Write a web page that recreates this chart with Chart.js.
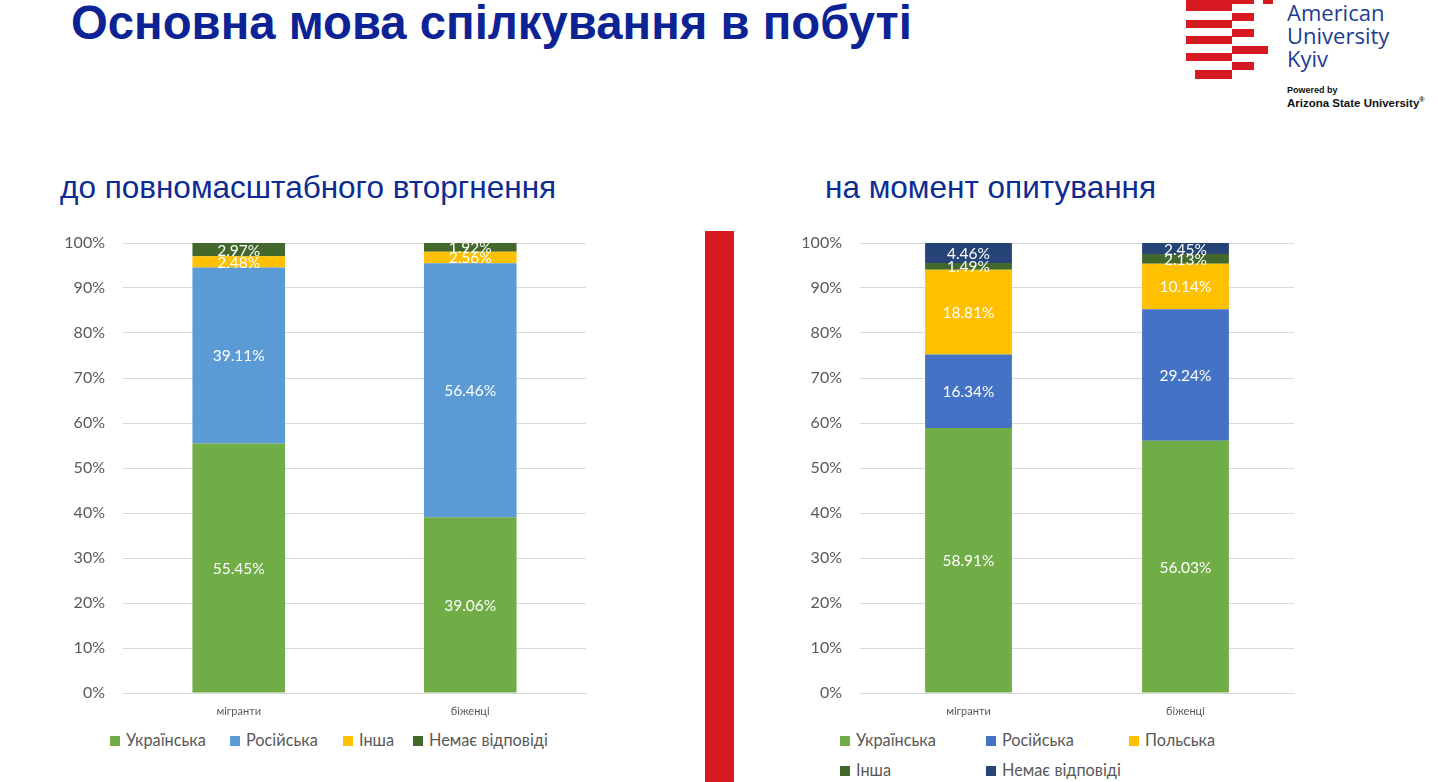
<!DOCTYPE html>
<html lang="uk">
<head>
<meta charset="utf-8">
<title>Основна мова спілкування в побуті</title>
<script src="https://cdn.jsdelivr.net/npm/chart.js@4"></script>
<style>
    html, body { margin: 0; padding: 0; background: #fff; }
    body { width: 1438px; height: 782px; position: relative; overflow: hidden; font-family: "Liberation Sans", Arial, sans-serif; }
    .titulo { position: absolute; left: 71px; top: -5px; font-size: 47.3px; font-weight: bold; color: #0b2394; white-space: nowrap; letter-spacing: 0px; }
    .sub { position: absolute; top: 169px; font-size: 31.5px; color: #0d2b92; white-space: nowrap; }
    .caja { position: absolute; }
    .barra-roja { position: absolute; left: 705px; top: 231px; width: 29px; height: 560px; background: #d71a21; }
    .leyenda { position: absolute; font-family: Lato, sans-serif; font-size: 16.3px; color: #595959; }
    .leyenda .item { position: absolute; white-space: nowrap; }
    .leyenda .cuadro { display: inline-block; width: 10px; height: 10px; margin-right: 6px; vertical-align: 0px; }
    .logo { position: absolute; left: 1180px; top: 0; width: 258px; height: 110px; }
    .logo .r { position: absolute; background: #d71a21; height: 8px; }
    .logo .txt { position: absolute; left: 107px; top: 1px; font-family: "Open Sans", sans-serif; font-size: 22px; line-height: 23px; color: #1d3c93; }
    .logo .pw { position: absolute; left: 107px; top: 85px; font-size: 9px; font-weight: bold; color: #111; }
    .logo .asu { position: absolute; left: 107px; top: 96px; font-size: 11.5px; font-weight: bold; color: #111; white-space: nowrap; }
</style>
</head>
<body>

<div class="titulo">Основна мова спілкування в побуті</div>

<!-- logo -->
<div class="logo">
    <div class="r" style="left:6px; top:-4px; width:46px;"></div>
    <div class="r" style="left:52px; top:-4px; width:22px;"></div>
    <div class="r" style="left:83px; top:-4px; width:10px;"></div>
    <div class="r" style="left:6px; top:3px; width:46px;"></div>
    <div class="r" style="left:52px; top:13px; width:22px;"></div>
    <div class="r" style="left:6px; top:20px; width:46px;"></div>
    <div class="r" style="left:52px; top:29px; width:22px;"></div>
    <div class="r" style="left:6px; top:36px; width:46px;"></div>
    <div class="r" style="left:52px; top:46px; width:36px;"></div>
    <div class="r" style="left:6px; top:53px; width:46px;"></div>
    <div class="r" style="left:52px; top:62px; width:22px;"></div>
    <div class="r" style="left:15px; top:70px; width:37px; height:9px;"></div>
    <div class="txt">American<br>University<br>Kyiv</div>
    <div class="pw">Powered by</div>
    <div class="asu">Arizona State University<sup style="font-size:7px">®</sup></div>
</div>

<div class="sub" style="left:60px;">до повномасштабного вторгнення</div>
<div class="sub" style="left:825px;">на момент опитування</div>

<div class="barra-roja"></div>

<div class="caja" style="left:40px; top:225px;"><canvas id="antes" width="570" height="495"></canvas></div>
<div class="caja" style="left:780px; top:225px;"><canvas id="ahora" width="540" height="495"></canvas></div>

<div class="leyenda" id="leyAntes"></div>
<div class="leyenda" id="leyAhora"></div>

<script>
// datos
const categorias = ['мігранти', 'біженці'];
const ticksY = [0, 10, 20, 30, 40, 50, 60, 70, 80, 90, 100];

// antes de la invasion
const ukrAntes = [55.45, 39.06];
const rusAntes = [39.11, 56.46];
const otraAntes = [2.48, 2.56];
const sinRespAntes = [2.97, 1.92];

// al momento de la encuesta
const ukrAhora = [58.91, 56.03];
const rusAhora = [16.34, 29.24];
const polAhora = [18.81, 10.14];
const otraAhora = [1.49, 2.13];
const sinRespAhora = [4.46, 2.45];

// etiquetas dentro de las barras
const etiquetas = {
    id: 'etiquetas',
    afterDatasetsDraw(chart) {
        const ctx = chart.ctx;
        ctx.save();
        ctx.font = '15.5px Lato';
        ctx.fillStyle = '#ffffff';
        ctx.textAlign = 'center';
        ctx.textBaseline = 'middle';
        chart.data.datasets.forEach(function (ds, i) {
            const meta = chart.getDatasetMeta(i);
            meta.data.forEach(function (bar, j) {
                const p = bar.getProps(['x', 'y', 'base'], true);
                ctx.fillText(ds.data[j].toFixed(2) + '%', p.x, (p.y + p.base) / 2 + 1);
            });
        });
        ctx.restore();
    }
};

function opciones(anchoY, padDer) {
    return {
        responsive: false,
        animation: false,
        layout: { padding: { top: 18, right: padDer, left: 0, bottom: 0 } },
        plugins: { legend: { display: false }, tooltip: { enabled: false } },
        scales: {
            x: {
                stacked: true,
                grid: { display: false },
                border: { color: '#d9d9d9', width: 1 },
                ticks: { color: '#595959', font: { family: 'Lato', size: 11 }, padding: 4 },
                afterFit: function (s) { s.height = 27; }
            },
            y: {
                stacked: true,
                min: 0,
                max: 100,
                afterBuildTicks: function (s) { s.ticks = ticksY.map(function (v) { return { value: v }; }); },
                grid: { color: '#d9d9d9', drawTicks: false },
                border: { display: false },
                ticks: {
                    color: '#595959',
                    font: { family: 'Lato', size: 16 },
                    padding: 18,
                    callback: function (v) { return v + '%'; }
                },
                afterFit: function (s) {
                    s.width = anchoY;
                    s.paddingTop = 0;
                    s.paddingBottom = 0;
                }
            }
        }
    };
}

function serie(nombre, datos, color) {
    return { label: nombre, data: datos, backgroundColor: color, borderWidth: 0, categoryPercentage: 0.8, barPercentage: 0.5 };
}

const seriesAntes = [
    serie('Українська', ukrAntes, '#70ad47'),
    serie('Російська', rusAntes, '#5b9bd5'),
    serie('Інша', otraAntes, '#ffc000'),
    serie('Немає відповіді', sinRespAntes, '#43682b')
];

const seriesAhora = [
    serie('Українська', ukrAhora, '#70ad47'),
    serie('Російська', rusAhora, '#4472c4'),
    serie('Польська', polAhora, '#ffc000'),
    serie('Інша', otraAhora, '#43682b'),
    serie('Немає відповіді', sinRespAhora, '#264478')
];

new Chart(document.getElementById('antes'), {
    type: 'bar',
    data: { labels: categorias, datasets: seriesAntes },
    options: opciones(83, 24),
    plugins: [etiquetas]
});

new Chart(document.getElementById('ahora'), {
    type: 'bar',
    data: { labels: categorias, datasets: seriesAhora },
    options: opciones(80, 26),
    plugins: [etiquetas]
});

// leyendas
function leyenda(id, series, posiciones) {
    const cont = document.getElementById(id);
    series.forEach(function (s, i) {
        const it = document.createElement('div');
        it.className = 'item';
        it.style.left = posiciones[i][0] + 'px';
        it.style.top = posiciones[i][1] + 'px';
        it.innerHTML = '<span class="cuadro" style="background:' + s.backgroundColor + '"></span>' + s.label;
        cont.appendChild(it);
    });
}

leyenda('leyAntes', seriesAntes, [[110, 730], [230, 730], [343, 730], [413, 730]]);
leyenda('leyAhora', seriesAhora, [[840, 730], [986, 730], [1129, 730], [840, 760], [986, 760]]);
</script>
</body>
</html>
